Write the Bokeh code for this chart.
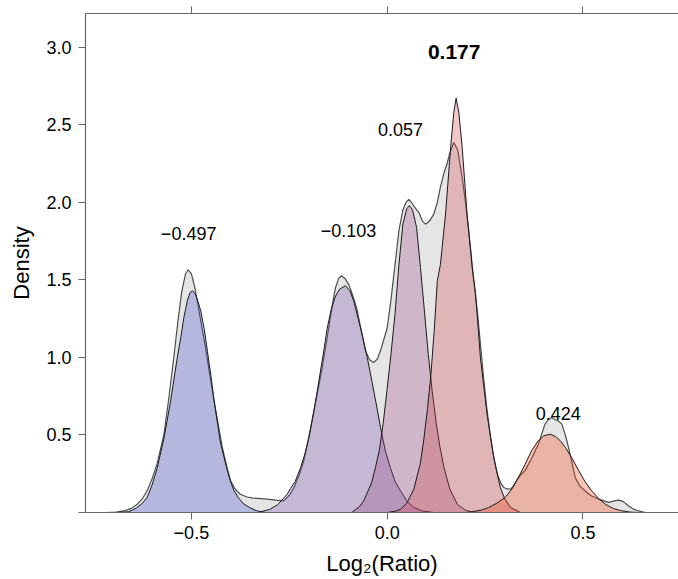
from bokeh.plotting import figure
from bokeh.models import ColumnDataSource, LinearAxis, FixedTicker, Range1d
from bokeh.core.properties import value
from bokeh.embed import file_html
from bokeh.resources import INLINE

# ---------------- data ----------------
# overall density (grey)
all_x = [-0.72, -0.69, -0.673, -0.655, -0.638, -0.625, -0.613, -0.60, -0.587, -0.570, -0.557, -0.545,
         -0.535, -0.525, -0.515, -0.508, -0.500, -0.492, -0.485, -0.475, -0.464, -0.453, -0.442, -0.431,
         -0.421, -0.41, -0.400, -0.388, -0.375, -0.358, -0.341, -0.306, -0.285, -0.264, -0.25, -0.238,
         -0.225, -0.213, -0.20, -0.187, -0.176, -0.166, -0.155, -0.145, -0.138, -0.132, -0.124, -0.117,
         -0.108, -0.098, -0.088, -0.077, -0.066, -0.055, -0.045, -0.034, -0.025, -0.015, 0.0, 0.01,
         0.021, 0.03, 0.04, 0.048, 0.055, 0.062, 0.07, 0.081, 0.09, 0.098, 0.108, 0.119, 0.128, 0.136,
         0.145, 0.153, 0.16, 0.17, 0.18, 0.1915, 0.20, 0.208, 0.215, 0.221, 0.231, 0.239, 0.247, 0.255,
         0.264, 0.272, 0.281, 0.290, 0.298, 0.306, 0.315, 0.322, 0.33, 0.34, 0.352, 0.369, 0.386, 0.395,
         0.403, 0.412, 0.420, 0.428, 0.437, 0.446, 0.455, 0.463, 0.472, 0.480, 0.492, 0.505, 0.52, 0.54,
         0.565, 0.58, 0.591, 0.603, 0.616, 0.63, 0.642, 0.66]
all_y = [0.0, 0.003, 0.01, 0.025, 0.054, 0.09, 0.14, 0.22, 0.32, 0.505, 0.75, 1.0,
         1.22, 1.42, 1.54, 1.566, 1.54, 1.46, 1.366, 1.22, 1.065, 0.89, 0.72, 0.56,
         0.42, 0.30, 0.205, 0.15, 0.118, 0.10, 0.093, 0.086, 0.08, 0.075, 0.11, 0.161,
         0.24, 0.333, 0.49, 0.656, 0.80, 0.935, 1.10, 1.26, 1.37, 1.45, 1.51, 1.527,
         1.51, 1.47, 1.40, 1.31, 1.17, 1.04, 0.985, 0.968, 0.99, 1.06, 1.19, 1.38,
         1.62, 1.82, 1.95, 2.0, 2.02, 2.0, 1.97, 1.935, 1.88, 1.86, 1.88, 1.925, 2.0, 2.10,
         2.19, 2.25, 2.32, 2.387, 2.34, 2.16, 2.0, 1.82, 1.65, 1.495, 1.28, 1.06, 0.85, 0.66,
         0.484, 0.36, 0.248, 0.19, 0.161, 0.152, 0.151, 0.17, 0.205, 0.24, 0.27, 0.35, 0.44, 0.51,
         0.57, 0.60, 0.613, 0.60, 0.59, 0.57, 0.50, 0.42, 0.32, 0.226, 0.17, 0.14, 0.11, 0.086,
         0.065, 0.075, 0.08, 0.07, 0.043, 0.02, 0.01, 0.0]

# component densities
c1_x = [-0.70, -0.66, -0.64, -0.625, -0.613, -0.60, -0.587, -0.570, -0.553, -0.536, -0.527, -0.519,
        -0.510, -0.503, -0.497, -0.490, -0.483, -0.476, -0.467, -0.459, -0.450, -0.442, -0.433, -0.425,
        -0.416, -0.408, -0.40, -0.391, -0.38, -0.366, -0.35, -0.332, -0.31]
c1_y = [0.0, 0.005, 0.03, 0.06, 0.097, 0.18, 0.29, 0.48, 0.72, 1.0, 1.13, 1.26,
        1.37, 1.42, 1.43, 1.41, 1.36, 1.30, 1.18, 1.04, 0.88, 0.72, 0.57, 0.44,
        0.35, 0.27, 0.20, 0.14, 0.095, 0.055, 0.03, 0.01, 0.0]

c2_x = [-0.33, -0.30, -0.28, -0.265, -0.255, -0.247, -0.235, -0.221, -0.21, -0.20, -0.187, -0.175,
        -0.164, -0.153, -0.143, -0.133, -0.122, -0.1065, -0.095, -0.085, -0.077, -0.065, -0.051, -0.040,
        -0.028, -0.017, -0.005, 0.008, 0.02, 0.034, 0.05, 0.068, 0.09, 0.12]
c2_y = [0.0, 0.02, 0.05, 0.09, 0.12, 0.155, 0.20, 0.29, 0.38, 0.48, 0.656, 0.84,
        1.01, 1.19, 1.31, 1.39, 1.44, 1.463, 1.43, 1.36, 1.28, 1.16, 1.0, 0.86,
        0.70, 0.548, 0.40, 0.29, 0.20, 0.14, 0.075, 0.032, 0.01, 0.0]

c3_x = [-0.09, -0.07, -0.06, -0.04, -0.03, -0.02, -0.01, 0.0, 0.01, 0.02, 0.03, 0.04, 0.05, 0.057,
        0.065, 0.075, 0.085, 0.095, 0.105, 0.115, 0.125, 0.135, 0.145, 0.16, 0.18, 0.20, 0.22]
c3_y = [0.0, 0.04, 0.075, 0.19, 0.29, 0.40, 0.58, 0.80, 1.03, 1.28, 1.60, 1.86, 1.96, 1.98,
        1.95, 1.84, 1.58, 1.30, 1.02, 0.78, 0.58, 0.42, 0.29, 0.15, 0.05, 0.015, 0.0]

c4_x = [0.0, 0.02, 0.034, 0.05, 0.068, 0.085, 0.094, 0.103, 0.111, 0.12, 0.128, 0.136, 0.149, 0.162,
        0.170, 0.176, 0.183, 0.1915, 0.204, 0.217, 0.2255, 0.238, 0.255, 0.272, 0.289, 0.30, 0.315, 0.34]
c4_y = [0.0, 0.008, 0.02, 0.06, 0.15, 0.32, 0.48, 0.67, 0.87, 1.17, 1.495, 1.60, 1.925, 2.355,
        2.58, 2.673, 2.58, 2.355, 1.925, 1.58, 1.42, 1.0, 0.635, 0.355, 0.16, 0.09, 0.032, 0.0]

c5_x = [0.20, 0.216, 0.24, 0.259, 0.28, 0.301, 0.318, 0.335, 0.352, 0.369, 0.385, 0.40, 0.416, 0.43,
        0.443, 0.455, 0.472, 0.489, 0.505, 0.522, 0.54, 0.557, 0.578, 0.599, 0.62, 0.64]
c5_y = [0.0, 0.005, 0.015, 0.032, 0.06, 0.097, 0.15, 0.226, 0.31, 0.40, 0.46, 0.495, 0.505, 0.49,
        0.46, 0.42, 0.35, 0.27, 0.20, 0.14, 0.09, 0.054, 0.025, 0.011, 0.003, 0.0]

comp_labels = ["\u22120.497", "\u22120.103", "0.057", "0.177", "0.424"]
x_ticks = [-0.5, 0.0, 0.5]
x_tick_labels = ["\u22120.5", "0.0", "0.5"]
y_ticks = [0.0, 0.5, 1.0, 1.5, 2.0, 2.5, 3.0]
y_tick_labels = ["", "0.5", "1.0", "1.5", "2.0", "2.5", "3.0"]

# ---------------- styling / positions ----------------
comp_colors = ["#454cce", "#7a4fac", "#9c4884", "#d0444b", "#f23e12"]
label_x = [-0.507, -0.099, 0.034, 0.171, 0.437]
label_y = [1.80, 1.82, 2.47, 2.97, 0.64]
label_bold = [False, False, False, True, False]
FONT = "Liberation Sans"

p = figure(width=678, height=579,
           x_range=Range1d(-0.7704, 0.7439), y_range=Range1d(0, 3.219),
           output_backend="svg", toolbar_location=None,
           x_axis_location=None, y_axis_location=None,
           min_border_left=85, min_border_right=0, min_border_top=13, min_border_bottom=67)
p.grid.visible = False
p.outline_line_color = None
p.background_fill_color = "white"
p.border_fill_color = "white"

# grey overall density
src_all = ColumnDataSource(dict(x=all_x, y=all_y))
p.varea(x="x", y1=0, y2="y", source=src_all, fill_color="#e5e5e5")
p.line(x="x", y="y", source=src_all, line_color="#4d4d4d", line_width=1.2)

comps = [(c1_x, c1_y), (c2_x, c2_y), (c3_x, c3_y), (c4_x, c4_y), (c5_x, c5_y)]
for (cx, cy), col in zip(comps, comp_colors):
    s = ColumnDataSource(dict(x=cx, y=cy))
    p.varea(x="x", y1=0, y2="y", source=s, fill_color=col, fill_alpha=0.3)
    p.line(x="x", y="y", source=s, line_color="#1a1a1a", line_width=1.0)

for lx, ly, txt, b in zip(label_x, label_y, comp_labels, label_bold):
    p.text(x=[lx], y=[ly], text=[txt], text_align="center", text_baseline="middle",
           text_font=value(FONT), text_font_size="21px" if b else "18px",
           text_font_style="bold" if b else "normal", text_color="black")

def style_axis(ax):
    ax.axis_line_color = "#666666"
    ax.axis_line_width = 1.2
    ax.major_tick_line_color = "#666666"
    ax.major_tick_line_width = 1
    ax.major_tick_out = 7
    ax.major_tick_in = 0
    ax.minor_tick_line_color = None
    ax.major_label_text_font = FONT
    ax.major_label_text_font_size = "18px"
    ax.major_label_text_color = "black"
    ax.axis_label_text_font = FONT
    ax.axis_label_text_font_size = "22px"
    ax.axis_label_text_font_style = "normal"
    ax.axis_label_text_color = "black"

xb = LinearAxis(ticker=FixedTicker(ticks=x_ticks),
                major_label_overrides={t: l for t, l in zip(x_ticks, x_tick_labels)},
                axis_label="Log\u2082(Ratio)")
style_axis(xb)
xb.major_label_standoff = 6
xb.axis_label_standoff = 9
p.add_layout(xb, "below")

xt = LinearAxis(ticker=FixedTicker(ticks=x_ticks),
                major_label_overrides={t: "" for t in x_ticks})
style_axis(xt)
xt.major_label_text_font_size = "0px"
xt.major_label_standoff = 0
p.add_layout(xt, "above")

yl = LinearAxis(ticker=FixedTicker(ticks=y_ticks),
                major_label_overrides={t: l for t, l in zip(y_ticks, y_tick_labels)},
                axis_label="Density")
style_axis(yl)
yl.major_label_standoff = 7
yl.axis_label_standoff = 9
p.add_layout(yl, "left")

open("out.html", "w").write(file_html(p, INLINE))
